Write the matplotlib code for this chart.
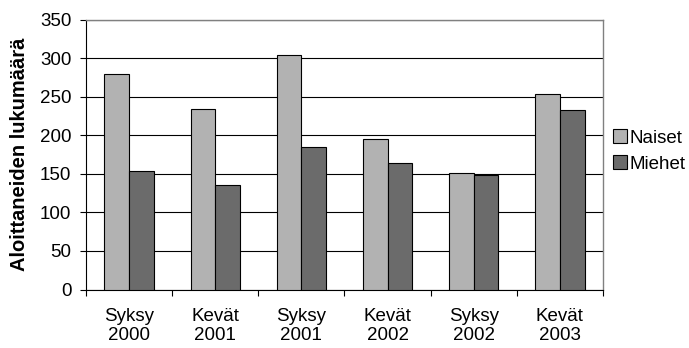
import numpy as np
import matplotlib
matplotlib.use("Agg")
import matplotlib.pyplot as plt
from matplotlib.patches import Patch

plt.rcParams['font.family'] = ['Liberation Sans', 'DejaVu Sans']

categories = ["Syksy\n2000", "Kevät\n2001", "Syksy\n2001", "Kevät\n2002", "Syksy\n2002", "Kevät\n2003"]
naiset = [280, 234, 304, 195, 151, 253]
miehet = [153, 135, 185, 164, 148, 233]
series_names = ["Naiset", "Miehet"]
colors = ["#b2b2b2", "#6b6b6b"]

FS = 13.5

fig = plt.figure(figsize=(6.89, 3.48), dpi=100)
ax = fig.add_axes([86 / 689, 1 - 289.5 / 348, (603 - 86) / 689, (289.5 - 19.5) / 348])

x = np.arange(len(categories))
w = 1 / 3.5
ax.bar(x - w / 2, naiset, width=w, color=colors[0], edgecolor="black", linewidth=0.8, zorder=3)
ax.bar(x + w / 2, miehet, width=w, color=colors[1], edgecolor="black", linewidth=0.8, zorder=3)

ax.set_xlim(-0.5, len(categories) - 0.5)
ax.set_ylim(0, 350)
ax.set_yticks(np.arange(0, 351, 50))
ax.yaxis.grid(True, color="black", linewidth=0.8, zorder=0)
ax.set_axisbelow(True)

ax.set_xticks(x)
ax.set_xticklabels(categories, fontsize=FS, linespacing=1.2)
ax.set_xticks(np.arange(-0.5, len(categories)), minor=True)
ax.tick_params(axis="x", which="major", length=0, pad=13)
ax.tick_params(axis="x", which="minor", length=4.5, width=0.8, direction="out")
ax.tick_params(axis="y", length=4.5, width=0.8, direction="out", labelsize=FS, pad=6)

for s in ["top", "right"]:
    ax.spines[s].set_color("#808080")
    ax.spines[s].set_linewidth(1.0)
for s in ["left", "bottom"]:
    ax.spines[s].set_color("black")
    ax.spines[s].set_linewidth(0.8)

ax.set_ylabel("Aloittaneiden lukumäärä", fontsize=14.5, fontweight="bold", labelpad=8)

handles = [Patch(facecolor=c, edgecolor="black", linewidth=0.8) for c in colors]
fig.legend(handles, series_names, loc="center left", bbox_to_anchor=(613 / 689, 1 - 151 / 348),
           frameon=False, fontsize=FS, handlelength=0.75, handleheight=0.75,
           handletextpad=0.15, labelspacing=0.45, borderpad=0, borderaxespad=0)

fig.savefig("out.png", dpi=100)
